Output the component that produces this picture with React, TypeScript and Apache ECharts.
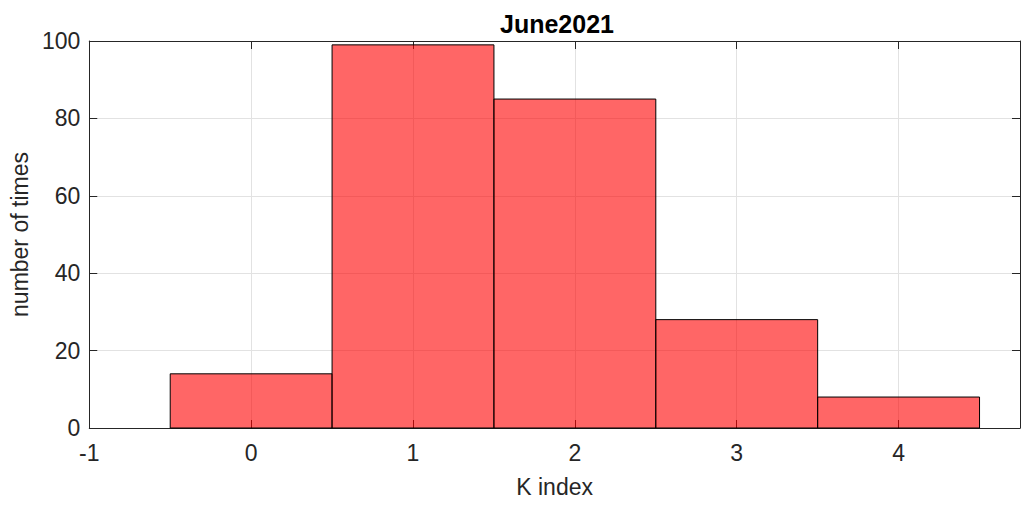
import React, { useEffect, useRef } from "react";
import * as echarts from "echarts";

const kIndex = [0, 1, 2, 3, 4];
const counts = [14, 99, 85, 28, 8];
const yTicks = [0, 20, 40, 60, 80, 100];
const titleText = "June2021";
const xName = "K index";
const yName = "number of times";

const FONT = "'Liberation Sans', Arial, Helvetica, sans-serif";
const AX = "#262626";

export default function App() {
  const ref = useRef<HTMLDivElement>(null);
  useEffect(() => {
    document.body.style.margin = "0";
    const chart = echarts.init(ref.current!, null, { renderer: "svg" });
    const data = kIndex.map((k, i) => [k, counts[i]]);
    const common = {
      type: "value" as const,
      axisLine: { show: true, onZero: false, lineStyle: { color: AX, width: 1 } },
      axisTick: { show: true, inside: true, length: 8, lineStyle: { color: AX } },
    };
    chart.setOption({
      animation: false,
      backgroundColor: "#ffffff",
      title: {
        text: titleText,
        left: 552,
        top: 6,
        textAlign: "center",
        textStyle: { fontFamily: FONT, fontSize: 25, fontWeight: "bold", color: "#000" },
      },
      grid: { left: 89, top: 41, width: 931, height: 387, containLabel: false },
      xAxis: [
        {
          ...common,
          position: "bottom",
          min: -1,
          max: 4.75,
          interval: 1,
          name: xName,
          nameLocation: "middle",
          nameGap: 47,
          nameTextStyle: { fontFamily: FONT, fontSize: 23, color: AX },
          axisLabel: {
            fontFamily: FONT,
            fontSize: 23,
            color: AX,
            margin: 13,
            formatter: (v: number) => (Number.isInteger(v) ? String(v) : ""),
          },
          splitLine: { show: true, lineStyle: { color: "#e2e2e2", width: 1 } },
        },
        {
          ...common,
          position: "top",
          min: -1,
          max: 4.75,
          interval: 1,
          axisLabel: { show: false },
          splitLine: { show: false },
        },
      ],
      yAxis: [
        {
          ...common,
          position: "left",
          min: yTicks[0],
          max: yTicks[yTicks.length - 1],
          interval: 20,
          name: yName,
          nameLocation: "middle",
          nameGap: 56,
          nameTextStyle: { fontFamily: FONT, fontSize: 23, color: AX },
          axisLabel: { fontFamily: FONT, fontSize: 23, color: AX, margin: 9 },
          splitLine: { show: true, lineStyle: { color: "#e2e2e2", width: 1 } },
        },
        {
          ...common,
          position: "right",
          min: yTicks[0],
          max: yTicks[yTicks.length - 1],
          interval: 20,
          axisLabel: { show: false },
          splitLine: { show: false },
        },
      ],
      series: [
        {
          type: "custom",
          xAxisIndex: 0,
          yAxisIndex: 0,
          encode: { x: 0, y: 1 },
          data,
          renderItem: (params: any, api: any) => {
            const k = api.value(0);
            const v = api.value(1);
            const p0 = api.coord([k - 0.5, 0]);
            const p1 = api.coord([k + 0.5, v]);
            return {
              type: "rect",
              shape: { x: p0[0], y: p1[1], width: p1[0] - p0[0], height: p0[1] - p1[1] },
              style: { fill: "rgba(255,0,0,0.6)", stroke: "#000", lineWidth: 1 },
            };
          },
        },
      ],
    });
    return () => chart.dispose();
  }, []);
  return <div ref={ref} style={{ width: 1028, height: 507 }} />;
}
